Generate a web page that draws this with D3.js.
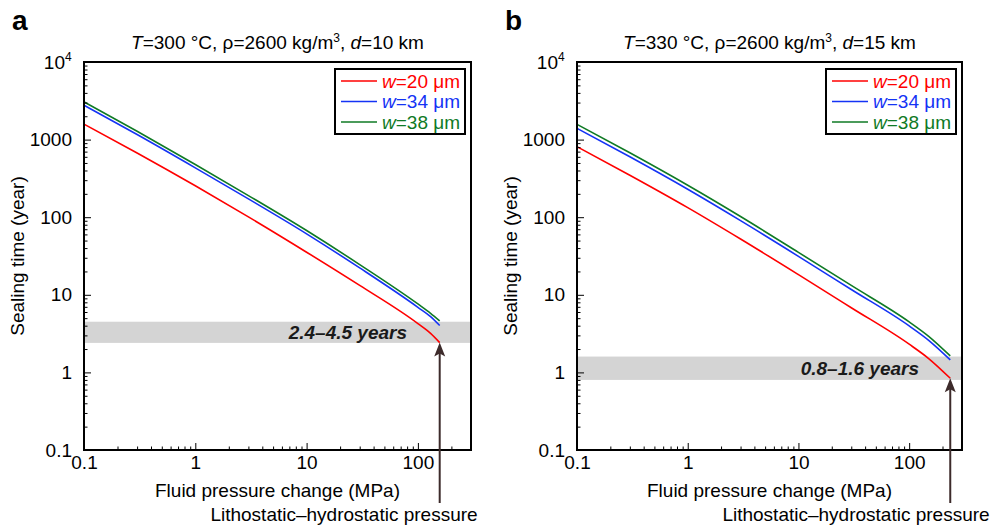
<!DOCTYPE html>
<html>
<head>
<meta charset="utf-8">
<title>Sealing time</title>
<script src="https://d3js.org/d3.v7.min.js"></script>
<style>
    body { margin: 0; background: white; }
    svg { font-family: "Liberation Sans", Arial, sans-serif; }
</style>
</head>
<body>
<div id="chart"></div>
<script>
    // Data (years vs MPa)
    const pressureA = [0.1, 0.3, 1, 3, 10, 30, 100, 130, 157];
    const w20A = [1585, 673, 254, 101, 35.4, 13.2, 4.25, 3.18, 2.42];
    const w34A = [2767, 1161, 432, 172, 61, 22.2, 6.9, 5.24, 4.02];
    const w38A = [3055, 1282, 478, 190, 67.3, 24.5, 7.62, 5.78, 4.61];

    const pressureB = [0.1, 0.3, 1, 3, 10, 30, 100, 150, 235];
    const w20B = [811, 348, 133, 52.4, 18.2, 6.82, 2.31, 1.51, 0.84];
    const w34B = [1396, 600, 229, 90.2, 31.3, 11.7, 3.97, 2.59, 1.45];
    const w38B = [1574, 676, 258, 102, 35.2, 13.2, 4.48, 2.92, 1.63];

    const bandA = [2.4, 4.5];
    const bandB = [0.8, 1.6];
    const bandLabels = ["2.4\u20134.5 years", "0.8\u20131.6 years"];

    const widths = ["20", "34", "38"];
    const colors = ["#ff0000", "#1433f5", "#0f7a25"];

    const xTicks = [0.1, 1, 10, 100];
    const xTickLabels = ["0.1", "1", "10", "100"];
    const yTicks = [0.1, 1, 10, 100, 1000, 10000];
    const yTickLabels = ["0.1", "1", "10", "100", "1000", "10|4"];

    const W = 993, H = 527;
    const FS = "19px";
    const svg = d3.select("#chart").append("svg")
        .attr("width", W).attr("height", H);

    const panels = [
        { letter: "a", left: 84, right: 471, T: "300", d: "10", p: pressureA, series: [w20A, w34A, w38A], band: bandA, label: bandLabels[0], labelX: 407, bottomLabelX: 344 },
        { letter: "b", left: 577, right: 962, T: "330", d: "15", p: pressureB, series: [w20B, w34B, w38B], band: bandB, label: bandLabels[1], labelX: 919, bottomLabelX: 856 }
    ];
    const plotTop = 62, plotBottom = 450;

    panels.forEach(function(pn) {
        const g = svg.append("g");
        const x = d3.scaleLog().domain([0.1, 300]).range([pn.left, pn.right]);
        const y = d3.scaleLog().domain([0.1, 10000]).range([plotBottom, plotTop]);

        // panel letter
        g.append("text")
            .attr("x", pn.left - 72).attr("y", 30)
            .style("font-size", "28px").style("font-weight", "bold")
            .text(pn.letter);

        // title
        const title = g.append("text")
            .attr("x", (pn.left + pn.right) / 2).attr("y", 49)
            .attr("text-anchor", "middle")
            .style("font-size", FS);
        title.append("tspan").style("font-style", "italic").text("T");
        title.append("tspan").text("=" + pn.T + " \u00b0C, \u03c1=2600 kg/m");
        title.append("tspan").attr("dy", -7).style("font-size", "12px").text("3");
        title.append("tspan").attr("dy", 7).text(", ");
        title.append("tspan").style("font-style", "italic").text("d");
        title.append("tspan").text("=" + pn.d + " km");

        // gray band
        g.append("rect")
            .attr("x", pn.left).attr("width", pn.right - pn.left)
            .attr("y", y(pn.band[1])).attr("height", y(pn.band[0]) - y(pn.band[1]))
            .attr("fill", "#d4d4d4");
        g.append("text")
            .attr("x", pn.labelX).attr("y", (y(pn.band[0]) + y(pn.band[1])) / 2 + 6.5)
            .attr("text-anchor", "end")
            .style("font-size", FS).style("font-weight", "bold").style("font-style", "italic")
            .attr("fill", "#1a1a1a")
            .text(pn.label);

        // curves
        const line = d3.line()
            .x((d, i) => x(pn.p[i]))
            .y(d => y(d))
            .curve(d3.curveMonotoneX);
        pn.series.forEach(function(s, k) {
            g.append("path")
                .datum(s)
                .attr("d", line)
                .attr("fill", "none")
                .attr("stroke", colors[k])
                .attr("stroke-width", 1.6);
        });

        // axes: minor ticks
        const minorX = [];
        const minorY = [];
        for (let e = -1; e <= 3; e++) {
            for (let m = 2; m <= 9; m++) {
                const v = m * Math.pow(10, e);
                if (v < 300) minorX.push(v);
                if (v < 10000) minorY.push(v);
            }
        }
        g.append("g")
            .attr("transform", "translate(0," + plotBottom + ")")
            .call(d3.axisBottom(x).tickValues(minorX).tickFormat("").tickSize(-3.5))
            .call(a => a.select(".domain").remove());
        g.append("g")
            .attr("transform", "translate(" + pn.left + ",0)")
            .call(d3.axisLeft(y).tickValues(minorY).tickFormat("").tickSize(-3.5))
            .call(a => a.select(".domain").remove());

        // axes: major ticks
        const xAxis = g.append("g")
            .attr("transform", "translate(0," + plotBottom + ")")
            .call(d3.axisBottom(x).tickValues(xTicks)
                .tickFormat((d, i) => xTickLabels[i]).tickSize(-7).tickPadding(6));
        xAxis.select(".domain").remove();
        xAxis.selectAll("text").style("font-size", FS).attr("fill", "#000")
            .style("font-family", "'Liberation Sans', Arial, sans-serif");

        const yAxis = g.append("g")
            .attr("transform", "translate(" + pn.left + ",0)")
            .call(d3.axisLeft(y).tickValues(yTicks)
                .tickFormat("").tickSize(-7));
        yAxis.select(".domain").remove();
        yTicks.forEach(function(v, i) {
            const parts = yTickLabels[i].split("|");
            g.append("text")
                .attr("x", pn.left - 12 - (parts.length > 1 ? 7 : 0))
                .attr("y", y(v) + 6.5)
                .attr("text-anchor", "end")
                .style("font-size", FS)
                .text(parts[0]);
            if (parts.length > 1) {
                g.append("text")
                    .attr("x", pn.left - 19).attr("y", y(v) - 1)
                    .style("font-size", "12px")
                    .text(parts[1]);
            }
        });

        // frame
        g.append("rect")
            .attr("x", pn.left).attr("y", plotTop)
            .attr("width", pn.right - pn.left).attr("height", plotBottom - plotTop)
            .attr("fill", "none").attr("stroke", "#000").attr("stroke-width", 2);

        // axis titles
        g.append("text")
            .attr("x", (pn.left + pn.right) / 2).attr("y", 497)
            .attr("text-anchor", "middle")
            .style("font-size", FS)
            .text("Fluid pressure change (MPa)");
        g.append("text")
            .attr("transform", "translate(" + (pn.left - 60) + "," + ((plotTop + plotBottom) / 2) + ") rotate(-90)")
            .attr("text-anchor", "middle")
            .style("font-size", FS)
            .text("Sealing time (year)");

        // arrow to lithostatic-hydrostatic pressure
        const pEnd = pn.p[pn.p.length - 1];
        const ax = x(pEnd);
        const ay = y(pn.series[0][pn.series[0].length - 1]);
        g.append("line")
            .attr("x1", ax).attr("x2", ax)
            .attr("y1", ay + 10).attr("y2", 503)
            .attr("stroke", "#3d2b2b").attr("stroke-width", 2);
        g.append("path")
            .attr("d", "M" + ax + "," + ay + " L" + (ax + 5.5) + "," + (ay + 14) +
                " L" + ax + "," + (ay + 11) + " L" + (ax - 5.5) + "," + (ay + 14) + "Z")
            .attr("fill", "#3d2b2b");
        g.append("text")
            .attr("x", pn.bottomLabelX).attr("y", 521)
            .attr("text-anchor", "middle")
            .style("font-size", FS)
            .text("Lithostatic\u2013hydrostatic pressure");

        // legend
        const lx = pn.right - 136, ly = 69;
        g.append("rect")
            .attr("x", lx).attr("y", ly).attr("width", 130).attr("height", 65)
            .attr("fill", "white").attr("stroke", "#000").attr("stroke-width", 2);
        widths.forEach(function(wv, k) {
            const ry = ly + 12 + k * 20.5;
            g.append("line")
                .attr("x1", lx + 6).attr("x2", lx + 42)
                .attr("y1", ry).attr("y2", ry)
                .attr("stroke", colors[k]).attr("stroke-width", 1.6);
            const t = g.append("text")
                .attr("x", lx + 47).attr("y", ry + 6.5)
                .style("font-size", FS)
                .attr("fill", colors[k]);
            t.append("tspan").style("font-style", "italic").text("w");
            t.append("tspan").text("=" + wv + " \u03bcm");
        });
    });
</script>
</body>
</html>
